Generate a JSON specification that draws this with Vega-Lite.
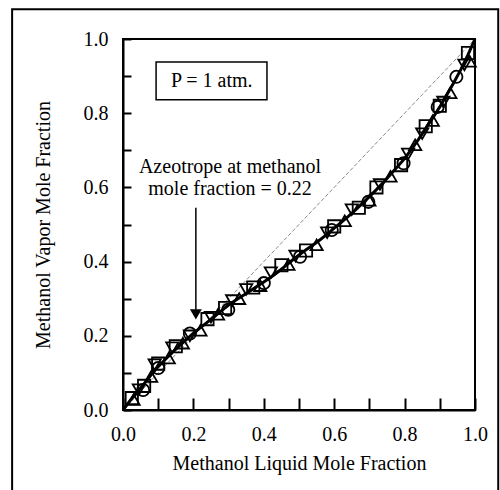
{
  "$schema": "https://vega.github.io/schema/vega-lite/v6.json",
  "width": 352,
  "height": 371,
  "autosize": {"type": "none"},
  "padding": {"left": 123, "top": 39, "right": 25, "bottom": 80},
  "background": "white",
  "config": {
    "view": {"stroke": "black", "strokeWidth": 2},
    "font": "Liberation Serif",
    "axis": {
      "labelFont": "Liberation Serif", "titleFont": "Liberation Serif",
      "labelFontSize": 20, "titleFontSize": 20, "labelColor": "black", "titleColor": "black",
      "titleFontWeight": "normal", "domainColor": "black", "domainWidth": 2,
      "tickColor": "black", "tickWidth": 2, "grid": false, "labelFlush": false, "labelOverlap": false
    }
  },
  "resolve": {"axis": {"x": "independent", "y": "independent"}},
  "datasets": {
    "points": [
      {"s": "circle", "x": 0.057, "y": 0.054}, {"s": "circle", "x": 0.1, "y": 0.113}, {"s": "circle", "x": 0.19, "y": 0.206},
      {"s": "circle", "x": 0.299, "y": 0.27}, {"s": "circle", "x": 0.4, "y": 0.342}, {"s": "circle", "x": 0.503, "y": 0.413},
      {"s": "circle", "x": 0.593, "y": 0.485}, {"s": "circle", "x": 0.697, "y": 0.561}, {"s": "circle", "x": 0.797, "y": 0.665},
      {"s": "circle", "x": 0.894, "y": 0.817}, {"s": "circle", "x": 0.947, "y": 0.898},
      {"s": "square", "x": 0.025, "y": 0.032}, {"s": "square", "x": 0.06, "y": 0.065}, {"s": "square", "x": 0.1, "y": 0.125},
      {"s": "square", "x": 0.15, "y": 0.172}, {"s": "square", "x": 0.24, "y": 0.245}, {"s": "square", "x": 0.29, "y": 0.275},
      {"s": "square", "x": 0.37, "y": 0.33}, {"s": "square", "x": 0.45, "y": 0.39}, {"s": "square", "x": 0.52, "y": 0.43},
      {"s": "square", "x": 0.6, "y": 0.495}, {"s": "square", "x": 0.67, "y": 0.545}, {"s": "square", "x": 0.72, "y": 0.6},
      {"s": "square", "x": 0.79, "y": 0.66}, {"s": "square", "x": 0.86, "y": 0.765}, {"s": "square", "x": 0.9, "y": 0.82},
      {"s": "square", "x": 0.98, "y": 0.962},
      {"s": "triangle-up", "x": 0.03, "y": 0.028}, {"s": "triangle-up", "x": 0.08, "y": 0.09}, {"s": "triangle-up", "x": 0.13, "y": 0.14},
      {"s": "triangle-up", "x": 0.17, "y": 0.18}, {"s": "triangle-up", "x": 0.22, "y": 0.215}, {"s": "triangle-up", "x": 0.27, "y": 0.258},
      {"s": "triangle-up", "x": 0.33, "y": 0.3}, {"s": "triangle-up", "x": 0.39, "y": 0.335}, {"s": "triangle-up", "x": 0.47, "y": 0.392},
      {"s": "triangle-up", "x": 0.55, "y": 0.445}, {"s": "triangle-up", "x": 0.63, "y": 0.51}, {"s": "triangle-up", "x": 0.7, "y": 0.565},
      {"s": "triangle-up", "x": 0.76, "y": 0.63}, {"s": "triangle-up", "x": 0.83, "y": 0.715}, {"s": "triangle-up", "x": 0.88, "y": 0.78},
      {"s": "triangle-up", "x": 0.93, "y": 0.855}, {"s": "triangle-up", "x": 0.985, "y": 0.94},
      {"s": "triangle-down", "x": 0.045, "y": 0.055}, {"s": "triangle-down", "x": 0.09, "y": 0.122}, {"s": "triangle-down", "x": 0.14, "y": 0.168},
      {"s": "triangle-down", "x": 0.19, "y": 0.2}, {"s": "triangle-down", "x": 0.25, "y": 0.25}, {"s": "triangle-down", "x": 0.31, "y": 0.295},
      {"s": "triangle-down", "x": 0.35, "y": 0.325}, {"s": "triangle-down", "x": 0.42, "y": 0.37}, {"s": "triangle-down", "x": 0.49, "y": 0.415},
      {"s": "triangle-down", "x": 0.58, "y": 0.478}, {"s": "triangle-down", "x": 0.65, "y": 0.54}, {"s": "triangle-down", "x": 0.73, "y": 0.608},
      {"s": "triangle-down", "x": 0.81, "y": 0.69}, {"s": "triangle-down", "x": 0.85, "y": 0.745}, {"s": "triangle-down", "x": 0.91, "y": 0.83},
      {"s": "triangle-down", "x": 0.97, "y": 0.93}
    ],
    "fit": [
      {"x": 0.0, "y": 0.0}, {"x": 0.02, "y": 0.025}, {"x": 0.04, "y": 0.048}, {"x": 0.06, "y": 0.071}, {"x": 0.08, "y": 0.095},
      {"x": 0.1, "y": 0.117}, {"x": 0.12, "y": 0.136}, {"x": 0.14, "y": 0.155}, {"x": 0.16, "y": 0.173}, {"x": 0.18, "y": 0.19},
      {"x": 0.2, "y": 0.207}, {"x": 0.22, "y": 0.222}, {"x": 0.24, "y": 0.237}, {"x": 0.26, "y": 0.252}, {"x": 0.28, "y": 0.268},
      {"x": 0.3, "y": 0.283}, {"x": 0.32, "y": 0.296}, {"x": 0.34, "y": 0.308}, {"x": 0.36, "y": 0.32}, {"x": 0.38, "y": 0.333},
      {"x": 0.4, "y": 0.345}, {"x": 0.42, "y": 0.358}, {"x": 0.44, "y": 0.372}, {"x": 0.46, "y": 0.387}, {"x": 0.48, "y": 0.403},
      {"x": 0.5, "y": 0.418}, {"x": 0.52, "y": 0.432}, {"x": 0.54, "y": 0.445}, {"x": 0.56, "y": 0.459}, {"x": 0.58, "y": 0.474},
      {"x": 0.6, "y": 0.49}, {"x": 0.62, "y": 0.506}, {"x": 0.64, "y": 0.522}, {"x": 0.66, "y": 0.539}, {"x": 0.68, "y": 0.557},
      {"x": 0.7, "y": 0.575}, {"x": 0.72, "y": 0.594}, {"x": 0.74, "y": 0.614}, {"x": 0.76, "y": 0.635}, {"x": 0.78, "y": 0.656},
      {"x": 0.8, "y": 0.678}, {"x": 0.82, "y": 0.703}, {"x": 0.84, "y": 0.73}, {"x": 0.86, "y": 0.759}, {"x": 0.88, "y": 0.787},
      {"x": 0.9, "y": 0.817}, {"x": 0.92, "y": 0.85}, {"x": 0.94, "y": 0.883}, {"x": 0.96, "y": 0.918}, {"x": 0.98, "y": 0.957},
      {"x": 1.0, "y": 1.0}
    ],
    "diag": [{"x": 0, "y": 0}, {"x": 1, "y": 1}],
    "one": [{}]
  },
  "layer": [
    {
      "data": {"name": "diag"},
      "mark": {"type": "line", "color": "#8a8a8a", "strokeWidth": 1, "strokeDash": [4, 2]},
      "encoding": {
        "x": {"field": "x", "type": "quantitative", "title": "Methanol Liquid Mole Fraction",
          "scale": {"domain": [0, 1], "nice": false, "zero": false},
          "axis": {"values": [0, 0.1, 0.2, 0.3, 0.4, 0.5, 0.6, 0.7, 0.8, 0.9, 1.0],
            "labelExpr": "round(datum.value*10) % 2 === 0 ? format(datum.value, '.1f') : ''",
            "ticks": true, "tickSize": -12, "labelPadding": 26, "titlePadding": 9}},
        "y": {"field": "y", "type": "quantitative", "title": "Methanol Vapor Mole Fraction",
          "scale": {"domain": [0, 1], "nice": false, "zero": false},
          "axis": {"values": [0, 0.1, 0.2, 0.3, 0.4, 0.5, 0.6, 0.7, 0.8, 0.9, 1.0],
            "labelExpr": "round(datum.value*10) % 2 === 0 ? format(datum.value, '.1f') : ''",
            "ticks": true, "tickSize": -8, "labelPadding": 23, "titlePadding": 30}}
      }
    },
    {
      "data": {"name": "one"},
      "mark": {"type": "rect", "fillOpacity": 0, "stroke": "black", "strokeWidth": 2, "clip": false},
      "encoding": {
        "x": {"datum": -0.315, "type": "quantitative", "axis": null},
        "x2": {"datum": 1.066},
        "y": {"datum": 1.08, "type": "quantitative", "axis": null},
        "y2": {"datum": -0.3}
      }
    },
    {
      "data": {"name": "points"},
      "mark": {"type": "point", "filled": false, "stroke": "black", "strokeWidth": 1.8, "size": 150, "opacity": 1},
      "encoding": {
        "x": {"field": "x", "type": "quantitative", "axis": null},
        "y": {"field": "y", "type": "quantitative", "axis": null},
        "shape": {"field": "s", "type": "nominal", "legend": null,
          "scale": {"domain": ["circle", "square", "triangle-up", "triangle-down"], "range": ["circle", "square", "triangle-up", "triangle-down"]}}
      }
    },
    {
      "data": {"name": "fit"},
      "mark": {"type": "line", "color": "black", "strokeWidth": 3},
      "encoding": {
        "x": {"field": "x", "type": "quantitative", "axis": null},
        "y": {"field": "y", "type": "quantitative", "axis": null}
      }
    },
    {
      "data": {"name": "one"},
      "mark": {"type": "rect", "fill": "white", "stroke": "black", "strokeWidth": 1.5},
      "encoding": {
        "x": {"datum": 0.094, "type": "quantitative", "axis": null},
        "x2": {"datum": 0.409},
        "y": {"datum": 0.938, "type": "quantitative", "axis": null},
        "y2": {"datum": 0.836}
      }
    },
    {
      "data": {"name": "one"},
      "mark": {"type": "text", "text": "P = 1 atm.", "font": "Liberation Serif", "fontSize": 20, "color": "black", "baseline": "middle", "align": "center"},
      "encoding": {
        "x": {"datum": 0.252, "type": "quantitative", "axis": null},
        "y": {"datum": 0.887, "type": "quantitative", "axis": null}
      }
    },
    {
      "data": {"name": "one"},
      "mark": {"type": "text", "text": ["Azeotrope at methanol", "mole fraction = 0.22"], "lineHeight": 22, "font": "Liberation Serif", "fontSize": 20, "color": "black", "baseline": "middle", "align": "center"},
      "encoding": {
        "x": {"datum": 0.304, "type": "quantitative", "axis": null},
        "y": {"datum": 0.654, "type": "quantitative", "axis": null}
      }
    },
    {
      "data": {"name": "one"},
      "mark": {"type": "rule", "color": "black", "strokeWidth": 1.5},
      "encoding": {
        "x": {"datum": 0.207, "type": "quantitative", "axis": null},
        "y": {"datum": 0.545, "type": "quantitative", "axis": null},
        "y2": {"datum": 0.27}
      }
    },
    {
      "data": {"name": "one"},
      "mark": {"type": "point", "shape": "triangle-down", "filled": true, "color": "black", "size": 140, "opacity": 1},
      "encoding": {
        "x": {"datum": 0.207, "type": "quantitative", "axis": null},
        "y": {"datum": 0.258, "type": "quantitative", "axis": null}
      }
    }
  ]
}
